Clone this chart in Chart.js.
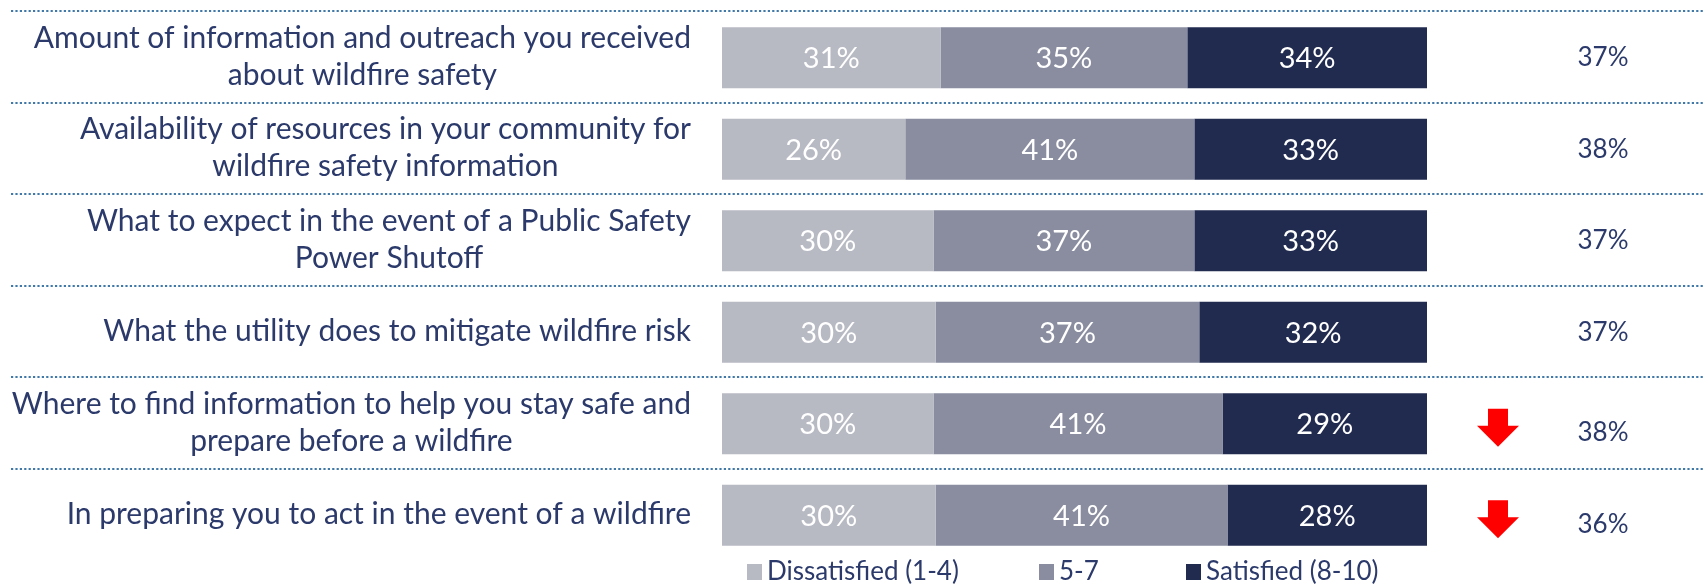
<!DOCTYPE html>
<html><head><meta charset="utf-8">
<script src="https://cdn.jsdelivr.net/npm/chart.js@4/dist/chart.umd.min.js"></script>
<style>html,body{margin:0;padding:0;background:#fff}#wrap{width:1708px;height:585px;position:relative}</style>
</head><body><div id="wrap"><canvas id="c" width="1708" height="585"></canvas></div>
<script>
const categories = [
  ["Amount of information and outreach you received", "about wildfire safety"],
  ["Availability of resources in your community for", "wildfire safety information"],
  ["What to expect in the event of a Public Safety", "Power Shutoff"],
  ["What the utility does to mitigate wildfire risk"],
  ["Where to find information to help you stay safe and", "prepare before a wildfire"],
  ["In preparing you to act in the event of a wildfire"]
];
const seriesNames = ["Dissatisfied (1-4)", "5-7", "Satisfied (8-10)"];
const dissatisfied = [31, 26, 30, 30.3, 30, 30.3];
const neutral = [35, 41, 37, 37.4, 41, 41.4];
const satisfied = [34, 33, 33, 32.3, 29, 28.3];
const rightValues = ["37%", "38%", "37%", "37%", "38%", "36%"];
const downArrow = [false, false, false, false, true, true];

const colors = ["#B7B9C3", "#898D9F", "#212B50"];
const navy = "#2B3A6B";
const FONT = "Lato, 'Open Sans', sans-serif";

const overlay = {
  id: 'overlay',
  afterDraw(chart) {
    const ctx = chart.ctx;
    const ys = chart.scales.y;
    const ca = chart.chartArea;
    ctx.save();
    // dotted separators
    ctx.strokeStyle = "#4079A8";
    ctx.lineWidth = 2;
    ctx.setLineDash([2.2, 2.2]);
    for (let i = 0; i < categories.length; i++) {
      const y = Math.round(ys.getPixelForValue(i - 0.5)) - 1;
      ctx.beginPath();
      ctx.moveTo(11, y);
      ctx.lineTo(1705, y);
      ctx.stroke();
    }
    ctx.setLineDash([]);
    // left labels
    ctx.fillStyle = navy;
    ctx.font = "30px " + FONT;
    ctx.textBaseline = 'middle';
    ctx.textAlign = 'center';
    const right = ca.left - 31;
    categories.forEach((lines, i) => {
      const cy = ys.getPixelForValue(i) - 1;
      const maxW = Math.max(...lines.map(l => ctx.measureText(l).width));
      const cx = right - maxW / 2;
      const lh = 37;
      const y0 = cy - (lines.length - 1) * lh / 2;
      lines.forEach((l, j) => ctx.fillText(l, cx, y0 + j * lh));
    });
    // bar value labels
    ctx.fillStyle = "#FFFFFF";
    ctx.font = "29px " + FONT;
    chart.data.datasets.forEach((ds, di) => {
      const meta = chart.getDatasetMeta(di);
      meta.data.forEach((el, i) => {
        const v = ds.data[i];
        ctx.fillText(Math.round(v) + "%", (el.x + el.base) / 2, el.y + 1);
      });
    });
    // right values + arrows
    rightValues.forEach((t, i) => {
      const cy = ys.getPixelForValue(i);
      ctx.fillStyle = navy;
      ctx.font = "26px " + FONT;
      ctx.fillText(t, ca.right + 176, cy + (downArrow[i] ? 9 : 0));
      if (downArrow[i]) {
        const ax = ca.right + 71;
        ctx.fillStyle = "#FF0000";
        ctx.beginPath();
        ctx.moveTo(ax - 10, cy - 15);
        ctx.lineTo(ax + 10, cy - 15);
        ctx.lineTo(ax + 10, cy + 2);
        ctx.lineTo(ax + 21, cy + 2);
        ctx.lineTo(ax, cy + 23);
        ctx.lineTo(ax - 21, cy + 2);
        ctx.lineTo(ax - 10, cy + 2);
        ctx.closePath();
        ctx.fill();
      }
    });
    // legend
    const lx = [ca.left + 25, ca.left + 317, ca.left + 464];
    const ly = 572;
    ctx.font = "26px " + FONT;
    ctx.textAlign = 'left';
    seriesNames.forEach((n, i) => {
      ctx.fillStyle = colors[i];
      ctx.fillRect(lx[i], ly - 8, 15, 16);
      ctx.fillStyle = navy;
      ctx.fillText(n, lx[i] + 20, ly);
    });
    ctx.restore();
  }
};

new Chart(document.getElementById('c'), {
  type: 'bar',
  data: {
    labels: categories.map(l => l.join(' ')),
    datasets: [
      { label: seriesNames[0], data: dissatisfied, backgroundColor: colors[0] },
      { label: seriesNames[1], data: neutral, backgroundColor: colors[1] },
      { label: seriesNames[2], data: satisfied, backgroundColor: colors[2] }
    ]
  },
  options: {
    indexAxis: 'y',
    responsive: false,
    devicePixelRatio: 1,
    animation: false,
    layout: { padding: { left: 722, right: 281, top: 12, bottom: 24 } },
    datasets: { bar: { barPercentage: 0.667, categoryPercentage: 1, borderWidth: 0 } },
    scales: {
      x: { stacked: true, min: 0, max: 100, display: false },
      y: { stacked: true, display: false }
    },
    plugins: { legend: { display: false }, tooltip: { enabled: false } }
  },
  plugins: [overlay]
});
</script>
</body></html>
